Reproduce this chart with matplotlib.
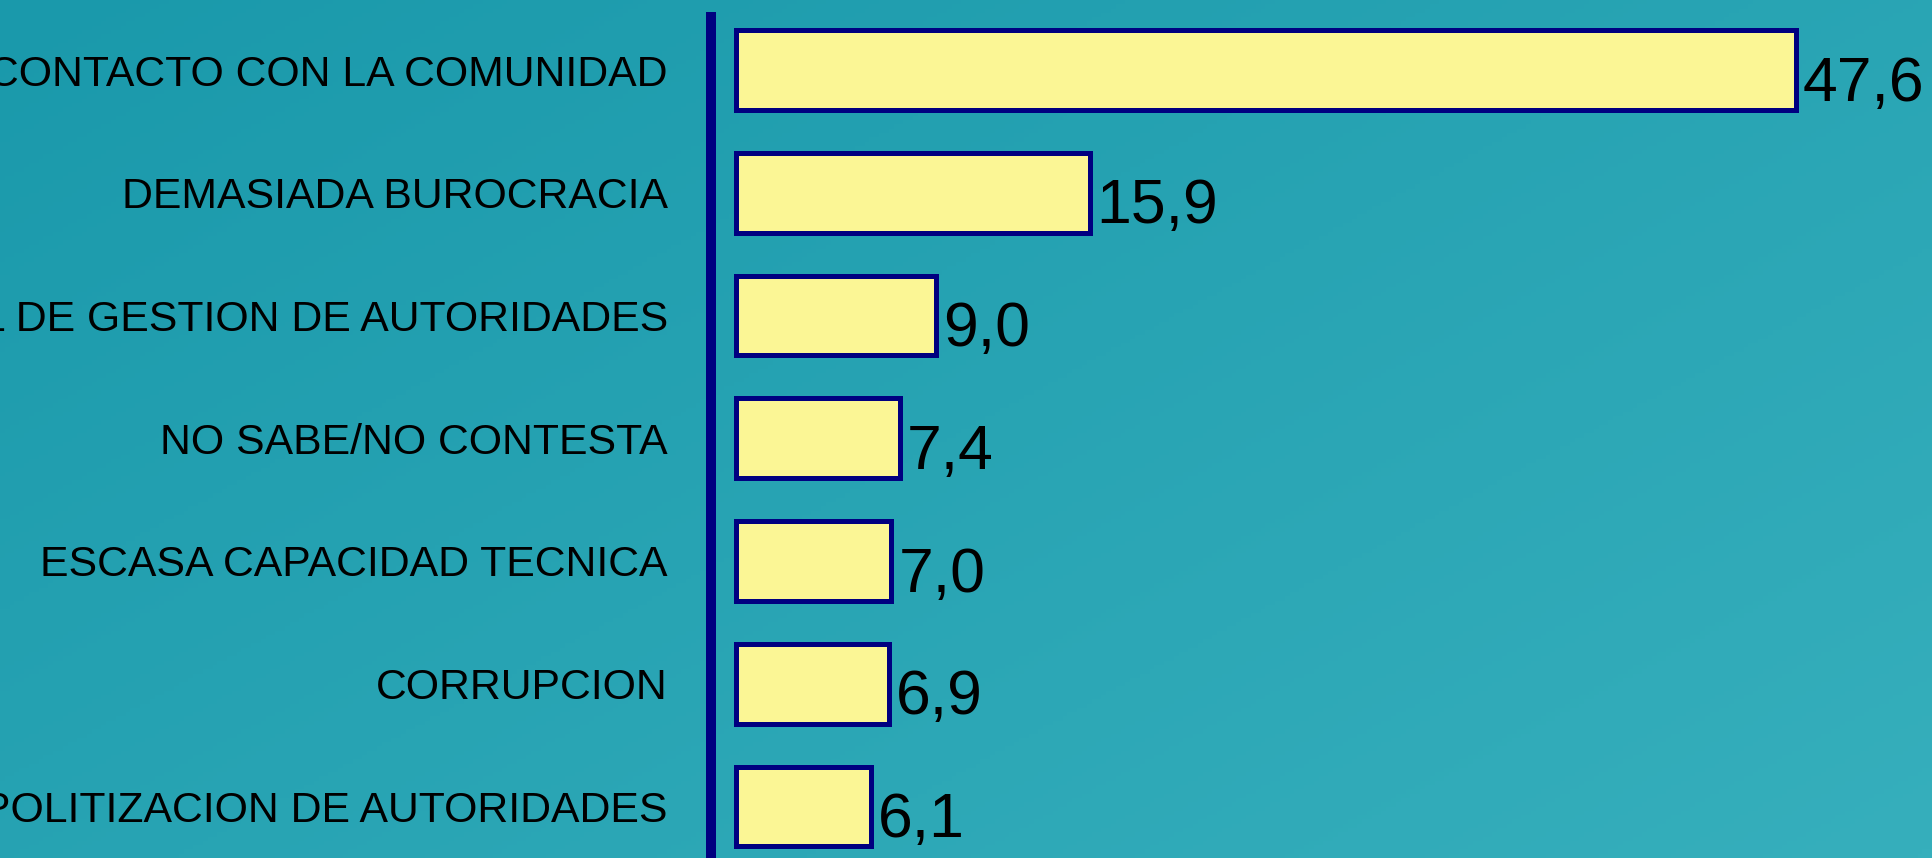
import numpy as np
import matplotlib
matplotlib.use('Agg')
import matplotlib.pyplot as plt
from matplotlib.colors import LinearSegmentedColormap

categories = ["CONTACTO CON LA COMUNIDAD", "DEMASIADA BUROCRACIA",
              "NIVEL DE GESTION DE AUTORIDADES", "NO SABE/NO CONTESTA",
              "ESCASA CAPACIDAD TECNICA", "CORRUPCION",
              "POLITIZACION DE AUTORIDADES"]
values = [47.6, 15.9, 9.0, 7.4, 7.0, 6.9, 6.1]
value_labels = ["47,6", "15,9", "9,0", "7,4", "7,0", "6,9", "6,1"]

plt.rcParams['font.family'] = ['Liberation Sans', 'DejaVu Sans']

W, H, DPI = 1932, 858, 100
fig = plt.figure(figsize=(W / DPI, H / DPI), dpi=DPI)

# background gradient
bg = fig.add_axes([0, 0, 1, 1], zorder=0)
yy, xx = np.mgrid[0:1:200j, 0:1:400j]
t = 0.55 * xx + 0.45 * yy
cmap = LinearSegmentedColormap.from_list('bg', ['#1A99AB', '#36AFBC'])
bg.imshow(t, cmap=cmap, aspect='auto', extent=[0, 1, 0, 1], origin='upper',
          vmin=0, vmax=1)
bg.axis('off')

ax_left_px = 711
ax = fig.add_axes([ax_left_px / W, 0, 1 - ax_left_px / W, 1 - 12 / H], zorder=1)
ax.patch.set_alpha(0)

y = np.arange(len(categories))
ax.barh(y, values, height=0.65, color='#FBF695', edgecolor='#000080',
        linewidth=3.6, zorder=2)

px_per_unit = 22.27
xl = -(735.5 - ax_left_px) / px_per_unit
ax.set_xlim(xl, xl + (W - ax_left_px) / px_per_unit)
ax.set_ylim(6 + 51.5 / 122.75, -58 / 122.75)

for sp in ['top', 'right', 'bottom']:
    ax.spines[sp].set_visible(False)
ax.spines['left'].set_color('#000080')
ax.spines['left'].set_linewidth(7.2)
ax.spines['left'].set_capstyle('butt')

ax.set_xticks([])
ax.set_yticks(y)
ax.set_yticklabels(categories)
ax.tick_params(axis='y', length=0, pad=31, labelsize=30.8, labelcolor='black')

for yi, v, lbl in zip(y, values, value_labels):
    ax.annotate(lbl, (v, yi), xytext=(5, -22), textcoords='offset points',
                ha='left', va='baseline', fontsize=45, color='black',
                annotation_clip=False)

fig.savefig('out.png', dpi=DPI)
